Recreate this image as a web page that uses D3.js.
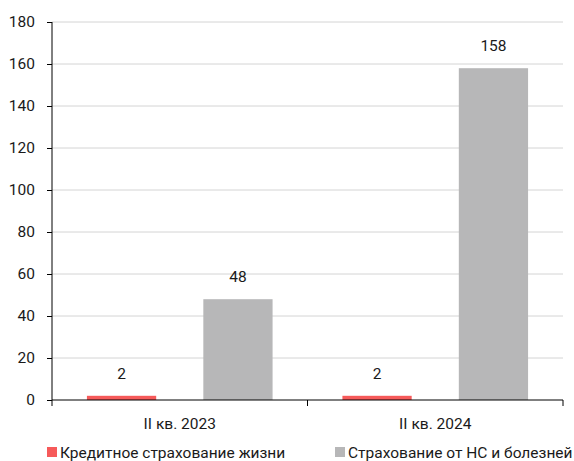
<!DOCTYPE html>
<html><head><meta charset="utf-8">
<script src="https://cdn.jsdelivr.net/npm/d3@7"></script>
<style>
body{margin:0;background:#fff;}
text{font-family:Roboto,"Open Sans",sans-serif;fill:#1a1a1a;}
</style></head>
<body><svg id="c" width="574" height="461"></svg>
<script>
const categories = ["II кв. 2023", "II кв. 2024"];
const seriesNames = ["Кредитное страхование жизни", "Страхование от НС и болезней"];
const creditLife = [2, 2];
const accidentHealth = [48, 158];
const yTicks = [0, 20, 40, 60, 80, 100, 120, 140, 160, 180];
const colors = ["#f65a5a", "#b7b7b8"];
const fontSize = "15.5px";

const svg = d3.select("#c");
const mLeft = 52, mRight = 563, mTop = 22, mBottom = 400;

const x0 = d3.scaleBand().domain(categories).range([mLeft, mRight]);
const x1 = d3.scaleBand().domain([0, 1]).range([0, x0.bandwidth()]).paddingInner(0.405).paddingOuter(0.3);
const y = d3.scaleLinear().domain([0, 180]).range([mBottom, mTop]);

// gridlines
svg.append("g").selectAll("line").data(yTicks.filter(d => d > 0)).join("line")
  .attr("x1", mLeft).attr("x2", mRight)
  .attr("y1", d => y(d)).attr("y2", d => y(d))
  .attr("stroke", "#d4d4d4").attr("stroke-width", 1);

// y axis
const yAxis = svg.append("g").attr("transform", `translate(${mLeft},0)`)
  .call(d3.axisLeft(y).tickValues(yTicks).tickSize(5).tickPadding(12));
yAxis.selectAll("text").style("font-size", fontSize);
yAxis.selectAll("line,path").attr("stroke", "#000");
yAxis.select(".domain").attr("d", `M0,${y(180)}V${mBottom}`);

const series = [creditLife, accidentHealth];
const groups = svg.append("g").selectAll("g").data(categories).join("g")
  .attr("transform", d => `translate(${x0(d)},0)`);

groups.selectAll("rect").data((c, i) => series.map((s, k) => ({k, v: s[i]}))).join("rect")
  .attr("x", d => x1(d.k)).attr("width", x1.bandwidth())
  .attr("y", d => y(d.v)).attr("height", d => mBottom - y(d.v))
  .attr("fill", d => colors[d.k]);

groups.selectAll("text.val").data((c, i) => series.map((s, k) => ({k, v: s[i]}))).join("text")
  .attr("class", "val")
  .attr("x", d => x1(d.k) + x1.bandwidth() / 2)
  .attr("y", d => y(d.v) - 17)
  .attr("text-anchor", "middle").style("font-size", fontSize)
  .text(d => d.v);

// x axis
const xAxis = svg.append("g").attr("transform", `translate(0,${mBottom})`)
  .call(d3.axisBottom(x0).tickSize(0).tickPadding(18));
xAxis.selectAll("text").style("font-size", fontSize);
xAxis.select(".domain").attr("stroke", "#000").attr("d", `M${mLeft},0H${mRight}`);
xAxis.selectAll(".sep").data([mLeft, x0(categories[1]), mRight]).join("line")
  .attr("class", "sep")
  .attr("x1", d => d).attr("x2", d => d).attr("y1", 0).attr("y2", 6).attr("stroke", "#000");

// legend
const legendX = [47, 335];
const lg = svg.append("g").selectAll("g").data(seriesNames).join("g")
  .attr("transform", (d, i) => `translate(${legendX[i]},453)`);
lg.append("rect").attr("x", 0).attr("y", -6).attr("width", 10).attr("height", 10)
  .attr("fill", (d, i) => colors[i]);
lg.append("text").attr("x", 13).attr("y", 5).style("font-size", fontSize).text(d => d);
</script></body></html>
